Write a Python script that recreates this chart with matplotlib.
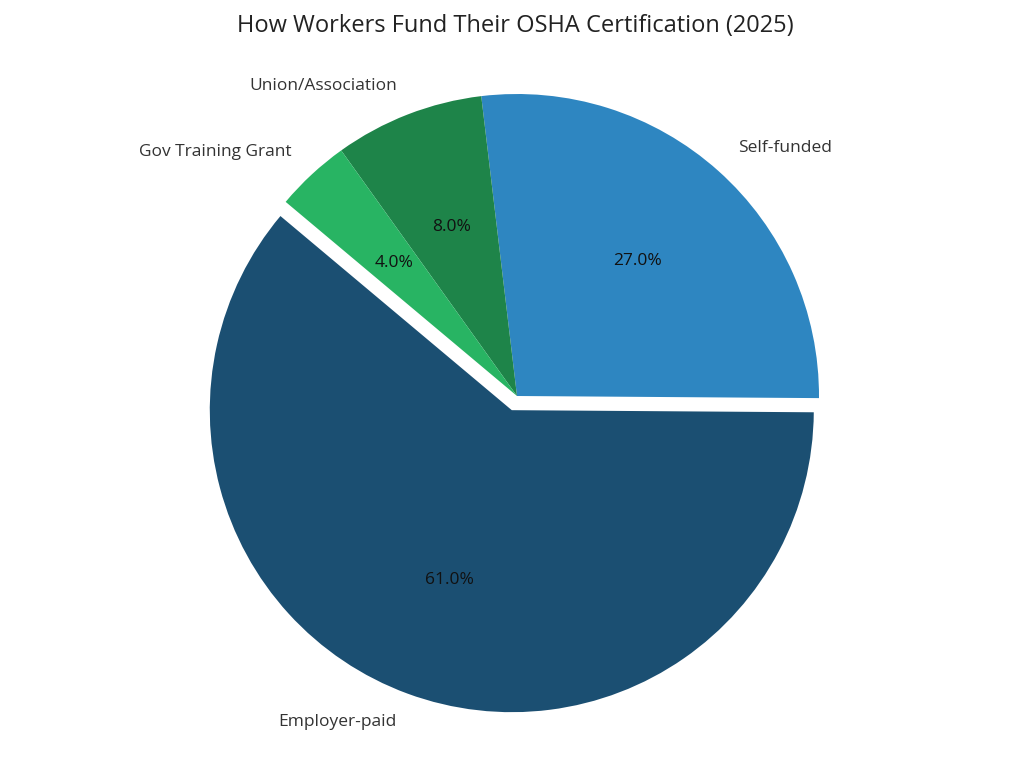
import matplotlib
matplotlib.use("Agg")
import matplotlib.pyplot as plt

labels = ["Employer-paid", "Self-funded", "Union/Association", "Gov Training Grant"]
shares = [61, 27, 8, 4]
colors = ["#1b4f72", "#2e86c1", "#1e8449", "#28b463"]
explode = [0.05, 0, 0, 0]
title = "How Workers Fund Their OSHA Certification (2025)"

plt.rcParams['font.family'] = ['Open Sans', 'DejaVu Sans']

W, H = 1024, 759
fig = plt.figure(figsize=(W / 100, H / 100), dpi=100)
R = 302
side = 2.5 * R
cx, cy = 517, 396
ax = fig.add_axes([(cx - side / 2) / W, (H - cy - side / 2) / H, side / W, side / H])

wedges, texts, autotexts = ax.pie(
    shares, labels=labels, colors=colors, explode=explode,
    startangle=140, autopct="%1.1f%%", pctdistance=0.6, labeldistance=1.1,
    textprops={"fontsize": 12.5, "color": "#333333"},
)
for t in autotexts:
    t.set_color("#111111")
    t.set_fontsize(12.5)
ax.set_xlim(-1.25, 1.25)
ax.set_ylim(-1.25, 1.25)
ax.set_aspect("equal")
ax.axis("off")

fig.text(515 / W, 1 - 26 / H, title, ha="center", va="center",
         fontsize=17, color="#222222")

fig.savefig("out.png", dpi=100, facecolor="white")
